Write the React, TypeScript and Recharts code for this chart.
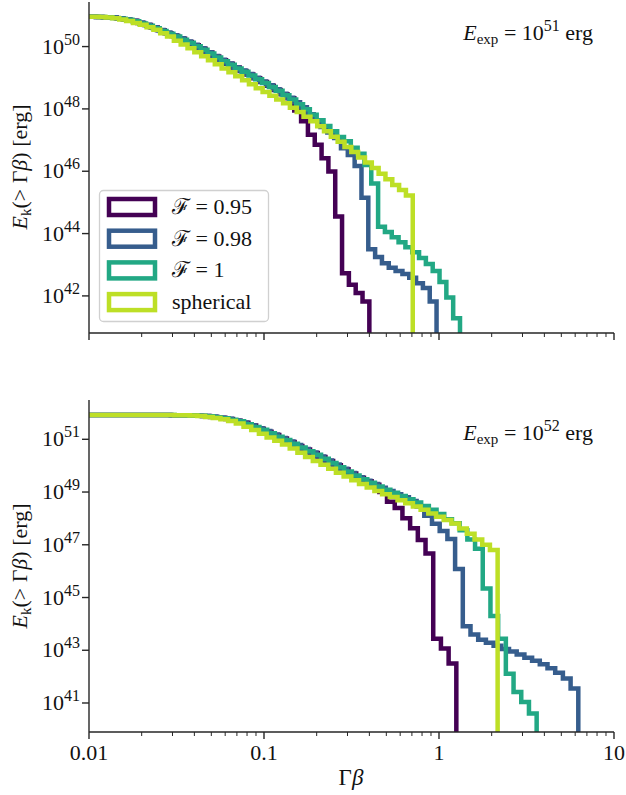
import React from "react";
import { LineChart, Line, XAxis, YAxis } from "recharts";

const FONT = "Liberation Serif";
const AXIS = "#262626";

const COLORS = ["#440154", "#365d8d", "#22a884", "#bddf26"];
const NAMES = ["ℱ = 0.95", "ℱ = 0.98", "ℱ = 1", "spherical"];

// log10 of Gamma*beta at the right edge of the last bin, and bin width (dex)
const topEnds = [-0.398, -0.014, 0.12, -0.15];
const TOP_STEP = 0.039;
const botEnds = [0.099, 0.796, 0.558, 0.335];
const BOT_STEP = 0.044;

// E_exp = 1e51 erg : log10 E_k(>Gamma beta) per bin
const topF095 = [
  50.96, 50.96, 50.95, 50.94, 50.93, 50.9, 50.87, 50.83, 50.76, 50.69,
  50.61, 50.52, 50.43, 50.34, 50.25, 50.15, 50.04, 49.93, 49.81, 49.68,
  49.56, 49.45, 49.33, 49.22, 49.1, 48.98, 48.86, 48.74, 48.61, 48.47,
  48.34, 47.95, 47.6, 47.17, 46.85, 46.42, 45.99, 44.55, 42.73, 42.36,
  42.09, 41.82,
];
const topF098 = [
  50.96, 50.95, 50.94, 50.93, 50.91, 50.87, 50.83, 50.77, 50.7, 50.62,
  50.53, 50.45, 50.36, 50.27, 50.16, 50.06, 49.95, 49.82, 49.7, 49.58,
  49.46, 49.34, 49.23, 49.12, 49.0, 48.88, 48.76, 48.63, 48.49, 48.36,
  48.21, 48.05, 47.83, 47.62, 47.42, 47.24, 47.07, 46.74, 46.52, 46.17,
  45.15, 43.5, 43.25, 43.05, 42.9, 42.8, 42.7, 42.58, 42.41, 42.25,
  41.82,
];
const topF1 = [
  50.96, 50.96, 50.95, 50.94, 50.92, 50.89, 50.86, 50.81, 50.74, 50.67,
  50.59, 50.5, 50.41, 50.32, 50.22, 50.12, 50.01, 49.9, 49.78, 49.65,
  49.53, 49.42, 49.3, 49.19, 49.07, 48.95, 48.83, 48.7, 48.58, 48.44,
  48.3, 48.15, 47.99, 47.81, 47.64, 47.45, 47.28, 47.1, 46.96, 46.75,
  46.56, 46.2, 45.61, 44.22, 44.05, 43.88, 43.72, 43.56, 43.4, 43.22,
  43.02, 42.8, 42.45, 41.95, 41.28,
];
const topSph = [
  50.96, 50.96, 50.95, 50.93, 50.91, 50.87, 50.82, 50.76, 50.7, 50.62,
  50.54, 50.43, 50.32, 50.19, 50.07, 49.95, 49.82, 49.69, 49.56, 49.43,
  49.3, 49.18, 49.05, 48.92, 48.79, 48.66, 48.54, 48.42, 48.3, 48.18,
  48.04, 47.9, 47.75, 47.6, 47.44, 47.28, 47.11, 46.95, 46.78, 46.62,
  46.44, 46.28, 46.1, 45.92, 45.74, 45.56, 45.4, 45.22,
];

// E_exp = 1e52 erg
const botF095 = [
  51.92, 51.92, 51.92, 51.92, 51.92, 51.92, 51.92, 51.92, 51.92, 51.92,
  51.92, 51.91, 51.91, 51.91, 51.89, 51.88, 51.85, 51.82, 51.77, 51.7,
  51.63, 51.52, 51.4, 51.29, 51.16, 51.03, 50.9, 50.75, 50.61, 50.48,
  50.33, 50.18, 50.02, 49.86, 49.7, 49.54, 49.41, 49.28, 49.0, 48.63,
  48.39, 48.01, 47.63, 47.18, 46.67, 43.44, 43.07, 42.5,
];
const botF098 = [
  51.92, 51.92, 51.92, 51.92, 51.92, 51.92, 51.92, 51.92, 51.92, 51.92,
  51.92, 51.91, 51.91, 51.91, 51.89, 51.88, 51.86, 51.82, 51.78, 51.71,
  51.64, 51.53, 51.42, 51.31, 51.18, 51.05, 50.92, 50.78, 50.63, 50.5,
  50.35, 50.2, 50.04, 49.88, 49.72, 49.56, 49.43, 49.3, 49.16, 49.04,
  48.92, 48.8, 48.66, 48.45, 48.1, 47.8, 47.52, 47.22, 46.08, 43.91,
  43.6, 43.4, 43.28, 43.17, 43.05, 42.95, 42.84, 42.72, 42.6, 42.47,
  42.32, 42.15, 41.93, 41.55,
];
const botF1 = [
  51.92, 51.92, 51.92, 51.92, 51.92, 51.92, 51.92, 51.92, 51.92, 51.92,
  51.92, 51.92, 51.91, 51.91, 51.9, 51.89, 51.87, 51.84, 51.8, 51.74,
  51.68, 51.57, 51.47, 51.36, 51.23, 51.1, 50.97, 50.83, 50.69, 50.55,
  50.41, 50.26, 50.1, 49.94, 49.78, 49.63, 49.48, 49.35, 49.21, 49.09,
  48.97, 48.85, 48.73, 48.6, 48.47, 48.33, 48.17, 47.97, 47.82, 47.55,
  47.2, 46.85, 45.34, 44.3, 43.44, 42.11, 41.42, 41.04, 40.6,
];
const botSph = [
  51.92, 51.92, 51.92, 51.92, 51.92, 51.92, 51.92, 51.92, 51.92, 51.92,
  51.92, 51.92, 51.91, 51.91, 51.9, 51.88, 51.85, 51.81, 51.76, 51.69,
  51.6, 51.48, 51.35, 51.21, 51.07, 50.94, 50.8, 50.65, 50.49, 50.33,
  50.18, 50.03, 49.88, 49.73, 49.59, 49.45, 49.3, 49.17, 49.04, 48.92,
  48.81, 48.69, 48.57, 48.45, 48.33, 48.19, 48.06, 47.94, 47.81, 47.62,
  47.42, 47.2, 47.0, 46.8,
];

const xTicks = [
  0.01, 0.02, 0.03, 0.04, 0.05, 0.06, 0.07, 0.08, 0.09,
  0.1, 0.2, 0.3, 0.4, 0.5, 0.6, 0.7, 0.8, 0.9,
  1, 2, 3, 4, 5, 6, 7, 8, 9, 10,
];
const xTickLabels: Record<string, string> = { "0.01": "0.01", "0.1": "0.1", "1": "1", "10": "10" };
const topYTicks = [1e42, 1e44, 1e46, 1e48, 1e50];
const botYTicks = [1e41, 1e43, 1e45, 1e47, 1e49, 1e51];
const topDomain = [Math.pow(10, 40.81), Math.pow(10, 51.43)];
const botDomain = [Math.pow(10, 39.9), Math.pow(10, 52.49)];

// histogram bins -> step points, last point drops below the axis
const toSteps = (vals: number[], end: number, step: number) => {
  const n = vals.length;
  const pts = vals.map((v, k) => ({ x: Math.pow(10, end - step * (n - k)), y: Math.pow(10, v) }));
  pts.push({ x: Math.pow(10, end), y: 1e30 });
  return pts;
};

const XTick = (props: any) => {
  const { x, y, payload, showLabel } = props;
  const lg = Math.log10(payload.value);
  const major = Math.abs(lg - Math.round(lg)) < 1e-6;
  const label = xTickLabels[String(payload.value)];
  return (
    <g>
      <line x1={x} x2={x} y1={y} y2={y + (major ? 7 : 4)} stroke={AXIS} strokeWidth={major ? 1.4 : 1} />
      {showLabel && major && label && (
        <text x={x} y={y + 28} textAnchor="middle" style={{ fontFamily: FONT }} fontSize={22} fill="#111">
          {label}
        </text>
      )}
    </g>
  );
};

const YTick = (props: any) => {
  const { x, y, payload } = props;
  const exp = Math.round(Math.log10(payload.value));
  return (
    <g>
      <line x1={x - 7} x2={x} y1={y} y2={y} stroke={AXIS} strokeWidth={1.4} />
      <text x={x - 9} y={y + 7} textAnchor="end" style={{ fontFamily: FONT }} fontSize={22} fill="#111">
        <tspan>10</tspan>
        <tspan dy={-9} fontSize={16}>{exp}</tspan>
      </text>
    </g>
  );
};

interface PanelProps {
  series: number[][];
  ends: number[];
  step: number;
  domain: number[];
  yTicks: number[];
  showXLabels: boolean;
  height: number;
  top: number;
  xHeight: number;
}

const Panel = ({ series, ends, step, domain, yTicks, showXLabels, height, top, xHeight }: PanelProps) => (
  <LineChart width={626} height={height} margin={{ top, right: 12, bottom: 0, left: 0 }}>
    <XAxis
      dataKey="x"
      type="number"
      scale="log"
      domain={[0.01, 10]}
      allowDataOverflow
      ticks={xTicks}
      interval={0}
      tickSize={0}
      tickMargin={0}
      tickLine={false}
      height={xHeight}
      axisLine={{ stroke: AXIS, strokeWidth: 1.4 }}
      tick={<XTick showLabel={showXLabels} />}
    />
    <YAxis
      dataKey="y"
      type="number"
      scale="log"
      domain={domain}
      allowDataOverflow
      ticks={yTicks}
      interval={0}
      tickSize={0}
      tickMargin={0}
      tickLine={false}
      width={89}
      axisLine={{ stroke: AXIS, strokeWidth: 1.4 }}
      tick={<YTick />}
    />
    {series.map((vals, i) => (
      <Line
        key={i}
        data={toSteps(vals, ends[i], step)}
        dataKey="y"
        type="stepAfter"
        stroke={COLORS[i]}
        strokeWidth={4.5}
        strokeLinejoin="miter"
        dot={false}
        activeDot={false}
        isAnimationActive={false}
      />
    ))}
  </LineChart>
);

const YLabel = ({ cx, cy }: { cx: number; cy: number }) => (
  <text x={cx} y={cy} transform={`rotate(-90 ${cx} ${cy})`} textAnchor="middle" style={{ fontFamily: FONT }} fontSize={22} fill="#111">
    <tspan fontStyle="italic">E</tspan>
    <tspan fontSize={15} dy={4}>k</tspan>
    <tspan dy={-4}>(&gt; Γ</tspan>
    <tspan fontStyle="italic">β</tspan>
    <tspan>) [erg]</tspan>
  </text>
);

const Energy = ({ x, y, exp }: { x: number; y: number; exp: number }) => (
  <text x={x} y={y} textAnchor="end" style={{ fontFamily: FONT }} fontSize={22} fill="#111">
    <tspan fontStyle="italic">E</tspan>
    <tspan fontSize={15} dy={4}>exp</tspan>
    <tspan dy={-4}> = 10</tspan>
    <tspan fontSize={16} dy={-9}>{exp}</tspan>
    <tspan dy={9}> erg</tspan>
  </text>
);

export default function App() {
  return (
    <div style={{ position: "absolute", left: 0, top: 0, width: 626, height: 795, background: "#fff" }}>
      <div style={{ position: "absolute", left: 0, top: 0 }}>
        <Panel
          series={[topF095, topF098, topF1, topSph]}
          ends={topEnds}
          step={TOP_STEP}
          domain={topDomain}
          yTicks={topYTicks}
          showXLabels={false}
          height={370}
          top={2}
          xHeight={37}
        />
      </div>
      <div style={{ position: "absolute", left: 0, top: 370 }}>
        <Panel
          series={[botF095, botF098, botF1, botSph]}
          ends={botEnds}
          step={BOT_STEP}
          domain={botDomain}
          yTicks={botYTicks}
          showXLabels={true}
          height={425}
          top={30}
          xHeight={63}
        />
      </div>
      <svg width={626} height={795} style={{ position: "absolute", left: 0, top: 0, pointerEvents: "none" }}>
        <YLabel cx={27} cy={167} />
        <YLabel cx={27} cy={566} />
        <Energy x={593} y={40} exp={51} />
        <Energy x={593} y={440} exp={52} />
        <text x={351} y={785} textAnchor="middle" style={{ fontFamily: FONT }} fontSize={23} fill="#111">
          <tspan>Γ</tspan>
          <tspan fontStyle="italic">β</tspan>
        </text>
        <rect x={99.5} y={190.5} width={169} height={131} rx={4} fill="#fff" fillOpacity={0.8} stroke="#d0d0d0" strokeWidth={1.3} />
        {NAMES.map((name, i) => (
          <g key={name}>
            <rect x={109} y={199 + i * 31.7} width={46} height={16} fill="#fff" stroke={COLORS[i]} strokeWidth={4.5} />
            <text x={172} y={214 + i * 31.7} style={{ fontFamily: FONT }} fontSize={22} fill="#111">
              {name}
            </text>
          </g>
        ))}
      </svg>
    </div>
  );
}
